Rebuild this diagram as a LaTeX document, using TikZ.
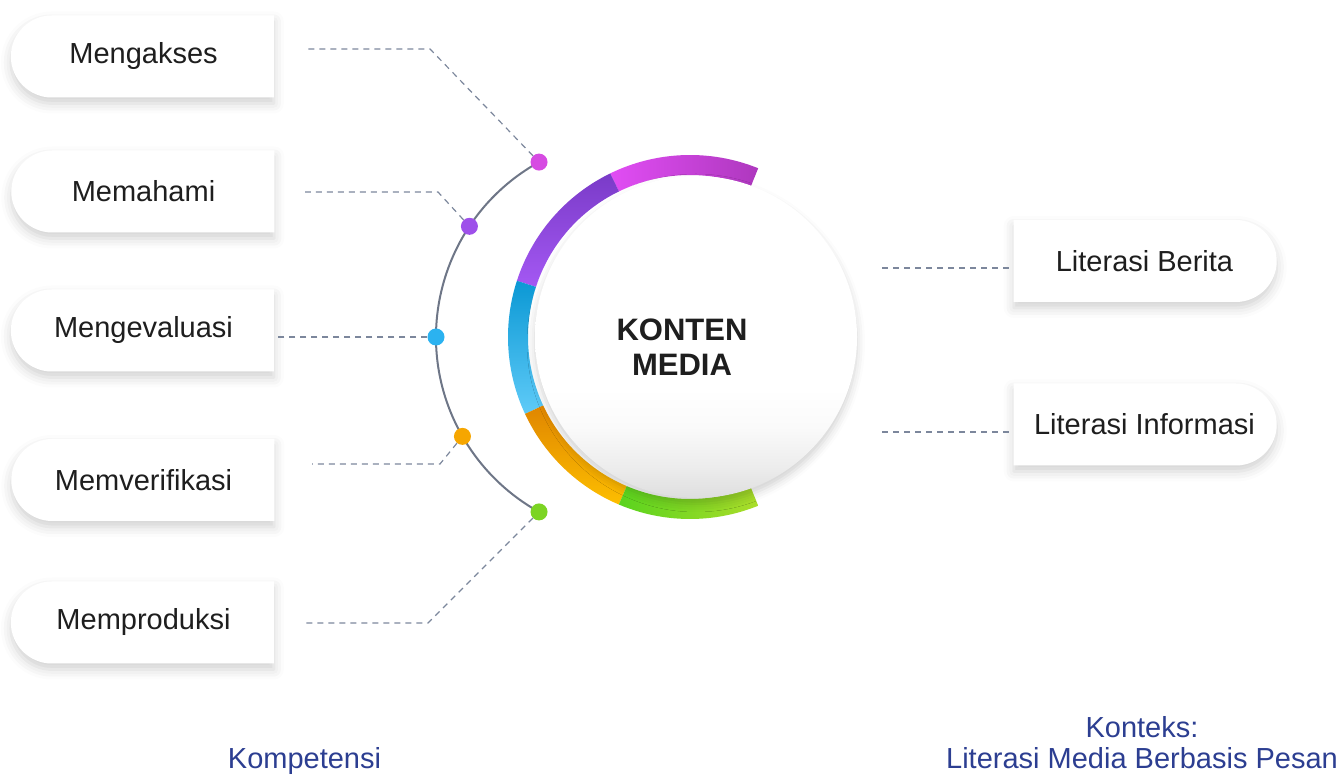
\documentclass[tikz,border=0pt]{standalone}
\usepackage{fontspec}
\setmainfont{Liberation Sans}
\usetikzlibrary{calc,positioning,shapes.misc,shadows.blur}
\definecolor{txtc}{HTML}{1E1E1E}
\definecolor{navy}{HTML}{2C3E91}
\definecolor{arcgray}{HTML}{6E7687}
\definecolor{dashc}{HTML}{7C879C}
\definecolor{magA}{HTML}{E14DF4}
\definecolor{magB}{HTML}{AE38BE}
\definecolor{purA}{HTML}{7A3BC8}
\definecolor{purB}{HTML}{A458F3}
\definecolor{bluA}{HTML}{0B98D4}
\definecolor{bluB}{HTML}{5FCBF8}
\definecolor{oraA}{HTML}{E08600}
\definecolor{oraB}{HTML}{FDBE00}
\definecolor{griA}{HTML}{5AD31E}
\definecolor{griB}{HTML}{AADD2A}
\definecolor{dotM}{HTML}{D64BE2}
\definecolor{dotP}{HTML}{9E50EA}
\definecolor{dotB}{HTML}{2BB2F0}
\definecolor{dotO}{HTML}{F6A600}
\definecolor{dotG}{HTML}{7CD424}
\pgfdeclareverticalshading{diskshade}{100bp}{color(0bp)=(black!15); color(25bp)=(black!13); color(30bp)=(black!7); color(36bp)=(black!2); color(42bp)=(white); color(100bp)=(white)}

\begin{document}
\begin{tikzpicture}[x=1pt,y=1pt,
  pill/.style={rounded rectangle,fill=white,minimum width=263pt,minimum height=82pt,inner sep=0pt,
    font=\fontsize{29}{35}\selectfont,text=txtc,
    blur shadow={shadow xshift=0pt,shadow yshift=-6pt,shadow blur radius=10pt,shadow opacity=18}},
  boxl/.style={pill,rounded rectangle right arc=none},
  boxr/.style={pill,rounded rectangle left arc=none},
  knob/.style={circle,minimum size=17pt,inner sep=0pt},
  leader/.style={dashc,line width=1.2pt,dash pattern=on 6pt off 5pt},
  note/.style={text=navy,font=\fontsize{29}{31}\selectfont,align=center,anchor=base}]
\useasboundingbox (0,0) rectangle (1344,774);

% gray arc with the five dots
\coordinate (arcc) at (636,437);
\draw[arcgray,line width=2pt] ($(arcc)+(119:200)$) arc[start angle=119,end angle=241,radius=200];
\node[knob,fill=dotM] (k1) at ($(arcc)+(119:200)$) {};
\node[knob,fill=dotP] (k2) at ($(arcc)+(146.4:200)$) {};
\node[knob,fill=dotB] (k3) at ($(arcc)+(180:200)$) {};
\node[knob,fill=dotO] (k4) at ($(arcc)+(209.8:200)$) {};
\node[knob,fill=dotG] (k5) at ($(arcc)+(241:200)$) {};

% colored ring
\coordinate (rc) at (690,437);
\shade[left color=magA,right color=magB] ($(rc)+(68:182)$) arc[start angle=68,end angle=116,radius=182] -- ($(rc)+(116:162)$) arc[start angle=116,end angle=68,radius=162] -- cycle;
\shade[top color=purA,bottom color=purB] ($(rc)+(116:182)$) arc[start angle=116,end angle=162,radius=182] -- ($(rc)+(162:162)$) arc[start angle=162,end angle=116,radius=162] -- cycle;
\shade[top color=bluA,bottom color=bluB] ($(rc)+(162:182)$) arc[start angle=162,end angle=205,radius=182] -- ($(rc)+(205:162)$) arc[start angle=205,end angle=162,radius=162] -- cycle;
\shade[top color=oraA,bottom color=oraB] ($(rc)+(205:182)$) arc[start angle=205,end angle=247,radius=182] -- ($(rc)+(247:162)$) arc[start angle=247,end angle=205,radius=162] -- cycle;
\shade[left color=griA,right color=griB] ($(rc)+(247:182)$) arc[start angle=247,end angle=292,radius=182] -- ($(rc)+(292:162)$) arc[start angle=292,end angle=247,radius=162] -- cycle;

% white disk
\node[circle,minimum size=322pt,inner sep=0pt,shade,shading=diskshade,
  blur shadow={shadow xshift=0pt,shadow yshift=-6pt,shadow blur radius=8pt,shadow opacity=18}] (core) at (696,437) {};
\node[font=\bfseries\fontsize{31}{35}\selectfont,align=center,text=txtc] (title) at (682,427) {KONTEN\\MEDIA};

% competences
\node[boxl] (akses) at (143.5,717.5) {Mengakses};
\node[boxl] (paham) at (143.5,582.5) {Memahami};
\node[boxl] (evalu) at (143.5,443.5) {Mengevaluasi};
\node[boxl] (verif) at (143.5,294) {Memverifikasi};
\node[boxl] (produ) at (143.5,151.5) {Memproduksi};

\coordinate (b1) at (430,725); \coordinate (s1) at (307,725);
\coordinate (b2) at (438,582); \coordinate (s2) at (305,582);
\coordinate (b4) at (440,310); \coordinate (s4) at (312,310);
\coordinate (b5) at (428,151); \coordinate (s5) at (305,151);
\draw[leader] (k1) -- (b1) -- (s1);
\draw[leader] (k2) -- (b2) -- (s2);
\draw[leader] (k3) -- (k3 -| evalu.east);
\draw[leader] (k4) -- (b4) -- (s4);
\draw[leader] (k5) -- (b5) -- (s5);

% context
\node[boxr] (berita) at (1144.5,513) {Literasi Berita};
\node[boxr] (info) at (1144.5,349.5) {Literasi Informasi};
\coordinate (q1) at (882,506);
\coordinate (q2) at (882,342);
\draw[leader] (q1) -- (q1 -| berita.west);
\draw[leader] (q2) -- (q2 -| info.west);

\node[note] (komp) at (304.5,6) {Kompetensi};
\node[note] (konteks) at (1142,6) {Konteks:\\Literasi Media Berbasis Pesan};
\end{tikzpicture}
\end{document}
